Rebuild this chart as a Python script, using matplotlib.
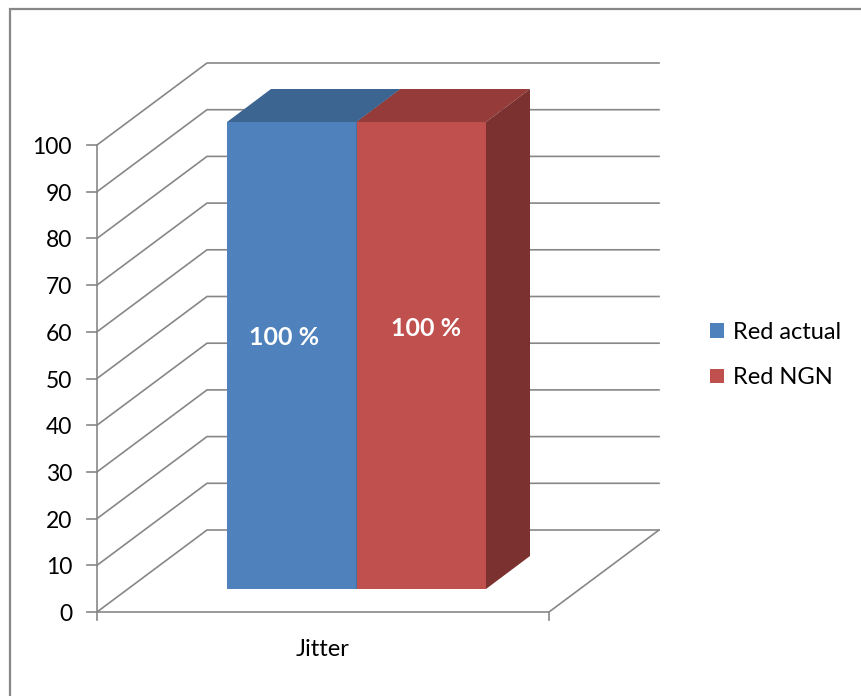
import matplotlib
matplotlib.use("Agg")
import matplotlib.pyplot as plt
from matplotlib.patches import Polygon, Rectangle, Patch

plt.rcParams['font.family'] = ['Lato', 'DejaVu Sans']

# Data
categories = ["Jitter"]
series_names = ["Red actual", "Red NGN"]
series_values = [100, 100]
value_labels = ["100 %", "100 %"]
y_ticks = [0, 10, 20, 30, 40, 50, 60, 70, 80, 90, 100]

front_colors = ["#4F81BD", "#C0504D"]
top_colors = ["#3D6592", "#953B39"]
side_colors = ["#3A5F8C", "#7B3130"]
grid_color = "#878787"

W, H = 861, 696
PX = 4.67            # pixels per value unit
ORIGIN_PY = 612      # pixel row of value 0 on the front edge

fig = plt.figure(figsize=(W / 100, H / 100), dpi=100)
ax = fig.add_axes([0, 0, 1, 1])
ax.set_xlim(0, W)
ax.set_ylim((ORIGIN_PY - H) / PX, ORIGIN_PY / PX)
ax.axis("off")

# oblique projection of depth (in pixel units)
wall_dx, wall_dy = 110, 82 / PX
x_left, x_right = 97, 549

# chart area border
ax.add_patch(Rectangle((9.5, (ORIGIN_PY - 9.5 - 700) / PX), 900, 700 / PX,
                       fill=False, ec=grid_color, lw=1.6, zorder=0))

# walls and gridlines
for v in y_ticks:
    ax.plot([x_left, x_left + wall_dx, x_right + wall_dx],
            [v, v + wall_dy, v + wall_dy], color=grid_color, lw=1.2,
            solid_joinstyle="miter", zorder=1)
# floor front edge and right edge
ax.plot([x_left, x_right, x_right + wall_dx], [0, 0, wall_dy],
        color=grid_color, lw=1.2, zorder=1)
# vertical axis with ticks
ax.plot([x_left, x_left], [0, y_ticks[-1]], color=grid_color, lw=1.2, zorder=1)
for v in y_ticks:
    ax.plot([x_left - 10, x_left], [v, v], color=grid_color, lw=1.2, zorder=1)
    ax.text(72, v - 2.5 / PX, str(v), ha="right", va="center", fontsize=16.5,
            color="#000000")
# category ticks on the floor edge
for xt in (x_left, x_right):
    ax.plot([xt, xt], [0, -8 / PX], color=grid_color, lw=1.2, zorder=1)
ax.text((x_left + x_right) / 2, -38 / PX, categories[0], ha="center",
        va="center", fontsize=17)

# bars
bar_front_dx, bar_front_dy = 30, 23 / PX
bar_depth_dx, bar_depth_dy = 44, 33 / PX
bar_w = 129.5
group_x0 = 197
label_pos = [(284 - 227, 58.7), (427 - 357, 60.8)]
for i, (val, name) in enumerate(zip(series_values, series_names)):
    x0 = group_x0 + i * bar_w + bar_front_dx
    x1 = x0 + bar_w
    yb = bar_front_dy
    yt = bar_front_dy + val
    # front face
    ax.add_patch(Polygon([(x0, yb), (x1, yb), (x1, yt), (x0, yt)],
                         closed=True, fc=front_colors[i], ec="none", zorder=3 + i))
    # top face
    ax.add_patch(Polygon([(x0, yt), (x1, yt), (x1 + bar_depth_dx, yt + bar_depth_dy),
                          (x0 + bar_depth_dx, yt + bar_depth_dy)],
                         closed=True, fc=top_colors[i], ec="none", zorder=3 + i))
    # side face
    ax.add_patch(Polygon([(x1, yb), (x1 + bar_depth_dx, yb + bar_depth_dy),
                          (x1 + bar_depth_dx, yt + bar_depth_dy), (x1, yt)],
                         closed=True, fc=side_colors[i], ec="none", zorder=3 + i))
    lx, ly = label_pos[i]
    ax.text(x0 + lx, ly * val / 100, value_labels[i], ha="center", va="center",
            color="white", fontsize=18, fontweight="bold", zorder=10)

# legend
handles = [Patch(fc=c, ec="none") for c in front_colors]
leg = ax.legend(handles, series_names, loc="center left",
                bbox_to_anchor=(689 / W, 1 - 355 / H), frameon=False,
                fontsize=17, handlelength=0.58, handleheight=0.58,
                handletextpad=0.4, labelspacing=1.05)

fig.savefig("out.png", dpi=100)
